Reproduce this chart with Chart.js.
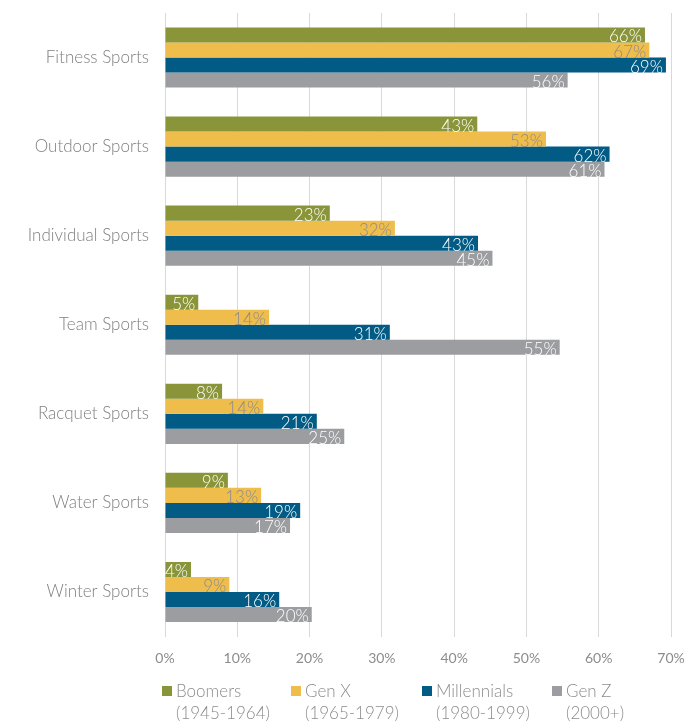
<!DOCTYPE html>
<html>
<head>
<meta charset="utf-8">
<script src="https://cdn.jsdelivr.net/npm/chart.js@4.4.1/dist/chart.umd.min.js"></script>
<style>
  html, body { margin: 0; padding: 0; background: #fff; }
  #wrap { width: 699px; height: 721px; }
</style>
</head>
<body>
<div id="wrap"><canvas id="sportsChart" width="699" height="721"></canvas></div>
<script>
// data
const categories = ["Fitness Sports", "Outdoor Sports", "Individual Sports", "Team Sports", "Racquet Sports", "Water Sports", "Winter Sports"];
const seriesNames = ["Boomers", "Gen X", "Millennials", "Gen Z"];
const seriesYears = ["(1945-1964)", "(1965-1979)", "(1980-1999)", "(2000+)"];
const boomers     = [66.4, 43.2, 22.8, 4.6, 7.9, 8.7, 3.6];
const genX        = [67.0, 52.7, 31.8, 14.4, 13.6, 13.3, 8.9];
const millennials = [69.3, 61.5, 43.3, 31.1, 21.0, 18.7, 15.8];
const genZ        = [55.7, 60.8, 45.3, 54.6, 24.8, 17.3, 20.3];
const xTicks = [0, 10, 20, 30, 40, 50, 60, 70];

const colors = ["#8a9539", "#efbd4b", "#015b84", "#9c9da0"];
const labelColors = ["#ffffff", "#8c8c8c", "#ffffff", "#ffffff"];
const seriesData = [boomers, genX, millennials, genZ];

const FONT = "Lato, 'Open Sans', sans-serif";

// value labels at the end of each bar
const barLabels = {
  id: "barLabels",
  afterDatasetsDraw(chart) {
    const ctx = chart.ctx;
    ctx.save();
    ctx.font = "300 17px " + FONT;
    ctx.textAlign = "right";
    ctx.textBaseline = "middle";
    chart.data.datasets.forEach((ds, i) => {
      chart.getDatasetMeta(i).data.forEach((bar, j) => {
        ctx.fillStyle = labelColors[i];
        ctx.fillText(Math.round(ds.data[j]) + "%", bar.x - 3, bar.y + 2);
      });
    });
    ctx.restore();
  }
};

// two-line legend under the axis
const legendBelow = {
  id: "legendBelow",
  afterDraw(chart) {
    const ctx = chart.ctx;
    const xs = [162, 291, 422, 552];
    ctx.save();
    ctx.font = "300 17px " + FONT;
    ctx.textAlign = "left";
    ctx.textBaseline = "middle";
    seriesNames.forEach((name, i) => {
      ctx.fillStyle = colors[i];
      ctx.fillRect(xs[i], 686, 10, 10);
      ctx.fillStyle = "#8c8c8c";
      ctx.fillText(name, xs[i] + 14, 692);
      ctx.fillText(seriesYears[i], xs[i] + 14, 714);
    });
    ctx.restore();
  }
};

new Chart(document.getElementById("sportsChart"), {
  type: "bar",
  data: {
    labels: categories,
    datasets: seriesNames.map((name, i) => ({
      label: name,
      data: seriesData[i],
      backgroundColor: colors[i],
      borderWidth: 0,
      categoryPercentage: 0.675,
      barPercentage: 1
    }))
  },
  options: {
    indexAxis: "y",
    responsive: false,
    animation: false,
    layout: { padding: { top: 13, right: 28, bottom: 56, left: 0 } },
    plugins: {
      legend: { display: false },
      tooltip: { enabled: false }
    },
    scales: {
      x: {
        min: 0,
        max: 70,
        afterBuildTicks: s => { s.ticks = xTicks.map(v => ({ value: v })); },
        afterFit: s => { s.height = 28.5; },
        grid: { color: "#d9d9d9", drawTicks: false },
        border: { display: false },
        ticks: {
          padding: 14,
          color: "#8c8c8c",
          font: { family: FONT, size: 14 },
          callback: v => v + "%"
        }
      },
      y: {
        afterFit: s => { s.width = 165; s.paddingTop = 0; s.paddingBottom = 0; },
        grid: { display: false, drawTicks: false },
        border: { display: true, color: "#d9d9d9" },
        ticks: {
          padding: 16,
          color: "#7f7f7f",
          font: { family: FONT, size: 17, weight: 300 }
        }
      }
    }
  },
  plugins: [barLabels, legendBelow]
});
</script>
</body>
</html>
